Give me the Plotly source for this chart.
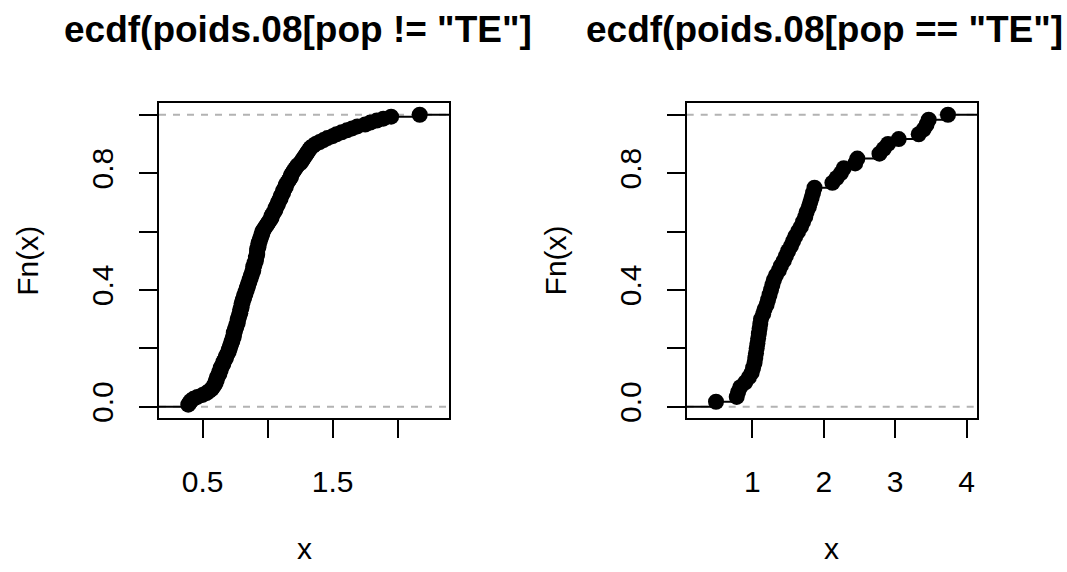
import plotly.graph_objects as go

# ---- data (sorted sample values) ----
x_not_te = [
    0.39, 0.40, 0.41, 0.43, 0.46, 0.50, 0.53, 0.55, 0.57, 0.58,
    0.59, 0.60, 0.60, 0.61, 0.61, 0.62, 0.63, 0.63, 0.64, 0.64,
    0.65, 0.66, 0.66, 0.67, 0.68, 0.68, 0.69, 0.70, 0.70, 0.71,
    0.71, 0.72, 0.72, 0.73, 0.73, 0.74, 0.74, 0.74, 0.75, 0.75,
    0.76, 0.76, 0.77, 0.77, 0.77, 0.78, 0.78, 0.79, 0.79, 0.79,
    0.80, 0.80, 0.80, 0.81, 0.81, 0.82, 0.82, 0.83, 0.83, 0.84,
    0.84, 0.85, 0.85, 0.86, 0.86, 0.87, 0.87, 0.88, 0.88, 0.89,
    0.89, 0.89, 0.90, 0.90, 0.91, 0.91, 0.91, 0.92, 0.92, 0.92,
    0.92, 0.93, 0.93, 0.93, 0.94, 0.94, 0.95, 0.95, 0.96, 0.96,
    0.97, 0.98, 0.99, 1.00, 1.01, 1.02, 1.03, 1.03, 1.04, 1.05,
    1.06, 1.06, 1.07, 1.08, 1.08, 1.09, 1.10, 1.10, 1.11, 1.12,
    1.12, 1.13, 1.14, 1.14, 1.15, 1.16, 1.17, 1.18, 1.18, 1.19,
    1.20, 1.21, 1.22, 1.23, 1.25, 1.26, 1.27, 1.28, 1.29, 1.30,
    1.31, 1.32, 1.33, 1.35, 1.37, 1.40, 1.43, 1.46, 1.50, 1.53,
    1.57, 1.61, 1.65, 1.69, 1.75, 1.79, 1.84, 1.89, 1.95, 2.17,
]
x_te = [
    0.49, 0.78, 0.80, 0.83, 0.90, 0.95, 0.99, 1.01, 1.03, 1.04,
    1.05, 1.06, 1.07, 1.08, 1.09, 1.10, 1.11, 1.12, 1.15, 1.17,
    1.20, 1.22, 1.24, 1.26, 1.28, 1.30, 1.33, 1.37, 1.40, 1.44,
    1.47, 1.50, 1.54, 1.57, 1.60, 1.64, 1.68, 1.71, 1.74, 1.76,
    1.79, 1.81, 1.83, 1.85, 1.87, 2.12, 2.18, 2.24, 2.28, 2.44,
    2.47, 2.78, 2.84, 2.90, 3.05, 3.33, 3.40, 3.44, 3.47, 3.74,
]
titles = ['ecdf(poids.08[pop != "TE"]', 'ecdf(poids.08[pop == "TE"]']
y_tickvals = [0.0, 0.2, 0.4, 0.6, 0.8, 1.0]
y_ticktext = ["0.0", "", "0.4", "", "0.8", ""]
x1_tickvals = [0.5, 1.0, 1.5, 2.0]
x1_ticktext = ["0.5", "", "1.5", ""]
x2_tickvals = [1, 2, 3, 4]
x2_ticktext = ["1", "2", "3", "4"]

FONT = "Liberation Sans, Arial, Helvetica, sans-serif"
W, H = 1067, 572


def r_xlim(xs):
    lo, hi = min(xs), max(xs)
    dr = 0.08 * (hi - lo)
    a, b = lo - dr, hi + dr
    pad = 0.04 * (b - a)
    return [a - pad, b + pad]


def ecdf_traces(xs, xa, ya, rng):
    n = len(xs)
    ys = [(i + 1) / n for i in range(n)]
    sx, sy = [rng[0], xs[0], None], [0, 0, None]
    for i in range(n):
        x_end = xs[i + 1] if i + 1 < n else rng[1]
        sx += [xs[i], x_end, None]
        sy += [ys[i], ys[i], None]
    seg = go.Scatter(x=sx, y=sy, mode="lines", xaxis=xa, yaxis=ya,
                     line=dict(color="black", width=2), hoverinfo="skip",
                     showlegend=False)
    pts = go.Scatter(x=xs, y=ys, mode="markers", xaxis=xa, yaxis=ya,
                     marker=dict(color="black", size=16, line=dict(width=0)),
                     showlegend=False)
    return [seg, pts]


rng1 = r_xlim(x_not_te)
rng2 = r_xlim(x_te)

fig = go.Figure()
for t in ecdf_traces(x_not_te, "x", "y", rng1):
    fig.add_trace(t)
for t in ecdf_traces(x_te, "x2", "y2", rng2):
    fig.add_trace(t)

ydom = [(H - 422) / H, (H - 104) / H]
dom1 = [159 / W, 449 / W]
dom2 = [686.7 / W, 977.3 / W]

axis_common = dict(showline=True, mirror=True, linecolor="black", linewidth=2,
                   ticks="outside", ticklen=18, tickwidth=2, tickcolor="black",
                   showgrid=False, zeroline=False,
                   tickfont=dict(family=FONT, size=30, color="black"))

fig.update_layout(
    width=W, height=H, margin=dict(l=0, r=0, t=0, b=0),
    paper_bgcolor="white", plot_bgcolor="white", showlegend=False,
    xaxis=dict(domain=dom1, range=rng1, tickvals=x1_tickvals, ticktext=x1_ticktext,
               anchor="y", ticklabelstandoff=18, **axis_common),
    yaxis=dict(domain=ydom, range=[-0.04, 1.04], tickvals=y_tickvals, ticktext=y_ticktext,
               anchor="x", tickangle=-90, ticklabelstandoff=14, **axis_common),
    xaxis2=dict(domain=dom2, range=rng2, tickvals=x2_tickvals, ticktext=x2_ticktext,
                anchor="y2", ticklabelstandoff=18, **axis_common),
    yaxis2=dict(domain=ydom, range=[-0.04, 1.04], tickvals=y_tickvals, ticktext=y_ticktext,
                anchor="x2", tickangle=-90, ticklabelstandoff=14, **axis_common),
)

# reference lines at 0 and 1
for xr, yr in (("x domain", "y"), ("x2 domain", "y2")):
    for h in (0, 1):
        fig.add_shape(type="line", xref=xr, yref=yr, x0=0, x1=1, y0=h, y1=h,
                      line=dict(color="#B3B3B3", width=2, dash="7px,7px"), layer="below")

ann = []
# titles
ann.append(dict(text=f"<b>{titles[0]}</b>", x=62 / W, y=(H - 30) / H, xref="paper", yref="paper",
                xanchor="left", yanchor="middle", showarrow=False,
                font=dict(family=FONT, size=37, color="black")))
ann.append(dict(text=f"<b>{titles[1]}</b>", x=584 / W, y=(H - 30) / H, xref="paper", yref="paper",
                xanchor="left", yanchor="middle", showarrow=False,
                font=dict(family=FONT, size=37, color="black")))
# axis titles
for xc in ((dom1[0] + dom1[1]) / 2, (dom2[0] + dom2[1]) / 2):
    ann.append(dict(text="x", x=xc, y=0, xref="paper", yref="paper",
                    xanchor="center", yanchor="bottom", showarrow=False,
                    font=dict(family=FONT, size=30, color="black")))
for xl in (159 - 131, 686.7 - 131):
    ann.append(dict(text="Fn(x)", x=xl / W, y=(H - 263) / H, xref="paper", yref="paper",
                    xanchor="center", yanchor="middle", textangle=-90, showarrow=False,
                    font=dict(family=FONT, size=30, color="black")))
fig.update_layout(annotations=ann)

fig.write_html("out.html")
